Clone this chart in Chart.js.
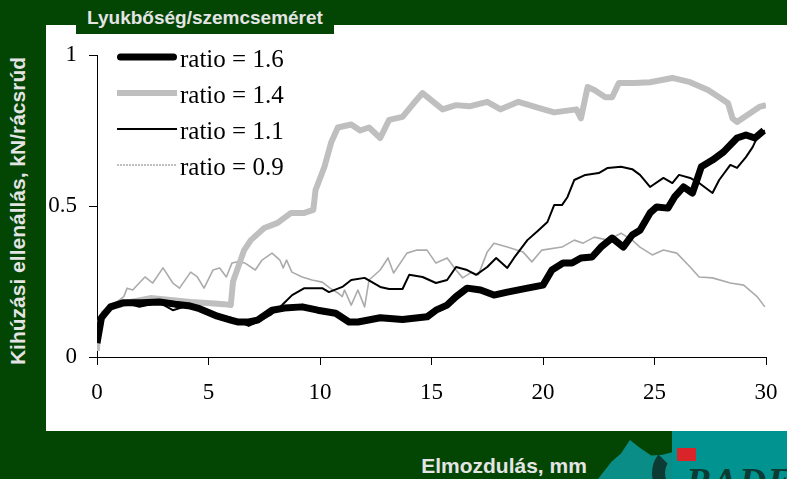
<!DOCTYPE html>
<html lang="hu">
<head>
<meta charset="utf-8">
<title>Kihúzási ellenállás</title>
<script src="https://cdn.jsdelivr.net/npm/chart.js@4.4.0/dist/chart.umd.min.js"></script>
<style>
  * { box-sizing: border-box; }
  html, body { margin: 0; padding: 0; }
  body { width: 787px; height: 479px; overflow: hidden; position: relative; background: #034503; font-family: "Liberation Sans", Arial, sans-serif; }
  .panel { position: absolute; left: 46px; top: 25px; width: 741px; height: 406px; background: #fff; }
  .tab { position: absolute; left: 76px; top: 0; width: 258px; height: 34px; background: #034503; color: #e4e4e4; font-weight: bold; font-size: 19px; text-align: center; line-height: 36px; }
  .ytitle { position: absolute; left: 18px; top: 211px; transform: translate(-50%, -50%) rotate(-90deg); white-space: nowrap; color: #e4e4e4; font-weight: bold; font-size: 21px; }
  .xtitle { position: absolute; left: 504px; top: 466px; transform: translate(-50%, -50%); white-space: nowrap; color: #e4e4e4; font-weight: bold; font-size: 21px; }
  .chart-box { position: absolute; left: 46px; top: 25px; width: 741px; height: 406px; }
  .logo-bg { position: absolute; left: 672px; top: 431px; width: 115px; height: 48px; background: #00938f; }
  .logo-hill { position: absolute; left: 598px; top: 440px; width: 76px; height: 39px; background: #0a8d86;
    clip-path: polygon(0 100%, 18% 55%, 30% 35%, 42% 0, 55% 20%, 70% 40%, 85% 38%, 100% 30%, 100% 100%); }
  .logo-c { position: absolute; left: 652px; top: 448px; width: 40px; height: 50px; border: 13px solid #0b3b32; border-right-color: transparent; border-top-color: transparent; border-radius: 50%; }
  .logo-red { position: absolute; left: 677px; top: 448px; width: 19px; height: 13px; background: #d9252a; }
  .logo-text { position: absolute; left: 686px; top: 462px; color: #0b3b32; font-family: "Liberation Serif", serif; font-weight: bold; font-style: italic; font-size: 38px; line-height: 38px; letter-spacing: 1px; }
</style>
</head>
<body>
  <div class="panel"></div>
  <div class="tab">Lyukbőség/szemcseméret</div>
  <div class="ytitle">Kihúzási ellenállás, kN/rácsrúd</div>
  <div class="xtitle">Elmozdulás, mm</div>
  <div class="logo-hill"></div>
  <div class="logo-bg"></div>
  <div class="logo-c"></div>
  <div class="logo-text">RADEX</div>
  <div class="logo-red"></div>
  <div class="chart-box"><canvas id="chart" width="741" height="406"></canvas></div>

<script>
// tengelyek
const xTicks = [0, 5, 10, 15, 20, 25, 30];
const yTicks = [0, 0.5, 1];

// ratio = 1.6
const r16X = [0, 0.2, 0.6, 1.2, 2.0, 2.8, 3.5, 4.1, 4.6, 5.4, 6.0, 6.3, 6.8, 7.2, 7.85, 8.4, 9.2, 9.9, 10.7, 11.3,
  11.7, 12.0, 12.7, 13.7, 14.8, 15.2, 15.7, 16.1, 16.6, 17.2, 17.8, 18.4, 19.3, 20.0, 20.4, 20.9, 21.3, 21.7, 22.2, 22.6,
  23.1, 23.6, 24.0, 24.35, 24.8, 25.1, 25.6, 25.9, 26.3, 26.7, 26.9, 27.1, 27.6, 28.1, 28.7, 29.1, 29.5, 29.9];
const r16Y = [0.046, 0.13, 0.166, 0.18, 0.18, 0.182, 0.175, 0.17, 0.16, 0.135, 0.122, 0.116, 0.116, 0.122, 0.155, 0.162, 0.166, 0.155, 0.145, 0.116,
  0.116, 0.12, 0.13, 0.124, 0.133, 0.155, 0.172, 0.2, 0.228, 0.222, 0.205, 0.215, 0.228, 0.238, 0.288, 0.311, 0.311, 0.328, 0.331, 0.364,
  0.394, 0.364, 0.404, 0.42, 0.477, 0.497, 0.493, 0.53, 0.563, 0.543, 0.586, 0.63, 0.652, 0.679, 0.725, 0.735, 0.725, 0.75];

// ratio = 1.4
const r14X = [0, 0.05, 0.3, 0.7, 1.5, 2.4, 3.3, 4.2, 5.1, 5.7, 6.0, 6.1, 6.6, 6.9, 7.5, 8.1, 8.7, 9.3, 9.7, 9.8,
  10.2, 10.5, 10.8, 11.4, 11.8, 12.2, 12.7, 13.1, 13.7, 14.2, 14.6, 15.0, 15.5, 16.1, 16.7, 17.5, 18.1, 18.9, 19.8, 20.5,
  21.5, 21.7, 22.0, 22.3, 22.8, 23.1, 23.4, 24.1, 24.8, 25.8, 26.6, 27.4, 27.9, 28.3, 28.5, 28.7, 29.3, 29.7, 30];
const r14Y = [0.02, 0.10, 0.146, 0.166, 0.182, 0.195, 0.189, 0.182, 0.178, 0.175, 0.172, 0.25, 0.354, 0.387, 0.427, 0.444, 0.477, 0.477, 0.487, 0.553,
  0.63, 0.71, 0.76, 0.77, 0.75, 0.76, 0.725, 0.785, 0.795, 0.84, 0.874, 0.85, 0.82, 0.834, 0.83, 0.845, 0.82, 0.845, 0.825, 0.81,
  0.82, 0.79, 0.894, 0.884, 0.86, 0.86, 0.907, 0.907, 0.91, 0.924, 0.91, 0.884, 0.86, 0.84, 0.79, 0.778, 0.808, 0.828, 0.834];

// ratio = 1.1
const r11X = [0, 0.27, 0.9, 1.2, 1.9, 2.8, 3.4, 3.9, 4.6, 5.4, 6.0, 6.8, 7.3, 7.8, 8.3, 8.75, 9.3, 10.1, 10.4, 11.0,
  11.4, 12.0, 12.7, 13.1, 13.7, 14.0, 14.6, 15.2, 15.7, 16.1, 16.6, 17.0, 17.5, 17.9, 18.4, 18.7, 19.3, 19.8, 20.2, 20.5,
  20.85, 21.1, 21.4, 21.9, 22.5, 22.9, 23.5, 24.0, 24.35, 24.8, 25.4, 25.8, 26.1, 26.6, 27.0, 27.6, 27.9, 28.4, 28.7, 29.1,
  29.4, 29.7, 29.95];
const r11Y = [0.056, 0.146, 0.166, 0.18, 0.166, 0.18, 0.155, 0.166, 0.162, 0.14, 0.13, 0.103, 0.12, 0.14, 0.172, 0.205, 0.228, 0.228, 0.215, 0.232,
  0.255, 0.262, 0.232, 0.225, 0.225, 0.272, 0.265, 0.245, 0.255, 0.298, 0.288, 0.272, 0.298, 0.328, 0.295, 0.328, 0.387, 0.42, 0.447, 0.503,
  0.503, 0.53, 0.586, 0.603, 0.609, 0.626, 0.63, 0.622, 0.603, 0.563, 0.593, 0.576, 0.603, 0.593, 0.576, 0.543, 0.586, 0.636, 0.626, 0.662,
  0.695, 0.742, 0.75];

// ratio = 0.9
const r09X = [0, 0.1, 0.6, 1.2, 1.35, 1.6, 2.15, 2.5, 2.96, 3.4, 3.7, 4.2, 4.5, 4.8, 5.2, 5.5, 5.8, 6.05, 6.3, 6.64,
  7.1, 7.4, 7.85, 8.2, 8.35, 8.5, 8.74, 9.2, 9.64, 10.1, 10.45, 10.8, 11.0, 11.1, 11.4, 11.7, 12.0, 12.2, 12.7, 13.05,
  13.3, 13.9, 14.35, 14.8, 15.2, 15.7, 16.1, 16.4, 16.8, 17.1, 17.5, 17.8, 18.4, 19.1, 19.5, 19.95, 20.85, 21.4, 21.8, 22.3,
  22.9, 23.5, 24.0, 24.35, 24.9, 25.4, 26.0, 26.6, 27.0, 27.6, 28.4, 29.0, 29.6, 29.95];
const r09Y = [0.02, 0.1, 0.166, 0.2, 0.228, 0.222, 0.265, 0.245, 0.295, 0.245, 0.228, 0.281, 0.265, 0.228, 0.288, 0.295, 0.265, 0.311, 0.315, 0.311,
  0.288, 0.321, 0.344, 0.321, 0.295, 0.321, 0.281, 0.265, 0.255, 0.248, 0.228, 0.212, 0.2, 0.222, 0.172, 0.222, 0.166, 0.255, 0.288, 0.328,
  0.278, 0.344, 0.354, 0.354, 0.311, 0.328, 0.288, 0.262, 0.281, 0.272, 0.348, 0.377, 0.364, 0.348, 0.315, 0.354, 0.364, 0.387, 0.377, 0.397,
  0.387, 0.41, 0.387, 0.364, 0.338, 0.354, 0.344, 0.298, 0.265, 0.262, 0.245, 0.238, 0.2, 0.166];

const pts = (xs, ys) => xs.map((x, i) => ({ x, y: ys[i] }));

// jelmagyarázat a diagramterületen belül
const insideLegend = {
  id: 'insideLegend',
  afterDatasetsDraw(chart) {
    const ctx = chart.ctx;
    const a = chart.chartArea;
    chart.data.datasets.forEach((ds, i) => {
      const y = a.top + 2 + i * 36;
      const cap = ds.legendCap || 'butt';
      const inset = cap === 'round' ? ds.borderWidth / 2 : 0;
      ctx.save();
      ctx.strokeStyle = ds.borderColor;
      ctx.lineWidth = ds.borderWidth;
      ctx.lineCap = cap;
      ctx.setLineDash(ds.legendDash || []);
      ctx.beginPath();
      ctx.moveTo(a.left + 20 + inset, y);
      ctx.lineTo(a.left + 80 - inset, y);
      ctx.stroke();
      ctx.setLineDash([]);
      ctx.fillStyle = '#000';
      ctx.font = '25px "Liberation Serif", "Times New Roman", serif';
      ctx.textBaseline = 'alphabetic';
      ctx.fillText(ds.label, a.left + 83, y + 10);
      ctx.restore();
    });
  }
};

const tickFont = { family: '"Liberation Serif", "Times New Roman", serif', size: 23 };

new Chart(document.getElementById('chart'), {
  type: 'line',
  data: {
    datasets: [
      { label: 'ratio = 1.6', data: pts(r16X, r16Y), borderColor: '#000000', borderWidth: 7, legendCap: 'round' },
      { label: 'ratio = 1.4', data: pts(r14X, r14Y), borderColor: '#bfbfbf', borderWidth: 6 },
      { label: 'ratio = 1.1', data: pts(r11X, r11Y), borderColor: '#000000', borderWidth: 2 },
      { label: 'ratio = 0.9', data: pts(r09X, r09Y), borderColor: '#ababab', borderWidth: 1.6, legendDash: [2, 1] }
    ]
  },
  options: {
    responsive: false,
    animation: false,
    elements: {
      point: { radius: 0, hoverRadius: 0 },
      line: { tension: 0, borderJoinStyle: 'round', fill: false }
    },
    layout: { padding: { left: 0, top: 30, right: 21, bottom: 0 } },
    plugins: { legend: { display: false }, tooltip: { enabled: false } },
    scales: {
      x: {
        type: 'linear', min: 0, max: 30,
        afterBuildTicks: (s) => { s.ticks = xTicks.map(v => ({ value: v })); },
        afterFit: (s) => { s.height = 74; s.paddingLeft = 0; s.paddingRight = 0; },
        grid: { drawOnChartArea: false, drawTicks: true, tickLength: 8, color: '#000', lineWidth: 1 },
        border: { display: true, color: '#000', width: 1 },
        ticks: { font: tickFont, color: '#000', padding: 14, maxRotation: 0 }
      },
      y: {
        min: 0, max: 1,
        afterBuildTicks: (s) => { s.ticks = yTicks.map(v => ({ value: v })); },
        afterFit: (s) => { s.width = 51; s.paddingTop = 0; s.paddingBottom = 0; },
        grid: { drawOnChartArea: false, drawTicks: true, tickLength: 8, color: '#000', lineWidth: 1 },
        border: { display: true, color: '#000', width: 1 },
        ticks: { font: tickFont, color: '#000', padding: 12, callback: (v) => String(v) }
      }
    }
  },
  plugins: [insideLegend]
});
</script>
</body>
</html>
